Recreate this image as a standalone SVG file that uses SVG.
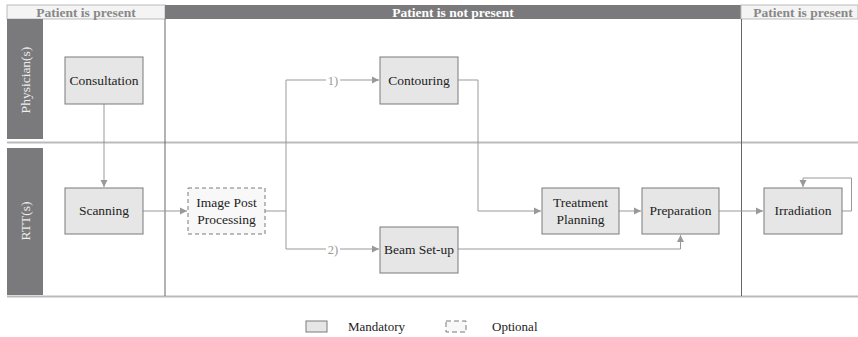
<svg xmlns="http://www.w3.org/2000/svg" width="858" height="337" viewBox="0 0 858 337">
<style>
.node{fill:#e6e6e6;stroke:#7a7a7a;stroke-width:1}
.opt{fill:#f8f8f8;stroke:#7a7a7a;stroke-width:1;stroke-dasharray:4,3}
text{font-family:'Liberation Serif','Times New Roman','DejaVu Serif',serif}
.t{font-size:13.5px;fill:#222;text-anchor:middle}
.lg{font-size:13px;fill:#222}
.lbl{font-size:12.5px;fill:#999;text-anchor:middle}
.hd{font-size:13.5px;font-weight:bold;text-anchor:middle}
.lane{font-size:13.5px;fill:#eee;text-anchor:middle}
.c{fill:none;stroke:#999;stroke-width:1}
.sep{stroke:#bbb;stroke-width:2}
</style>
<defs>
<marker id="a" markerWidth="8" markerHeight="8" refX="7" refY="4" orient="auto" markerUnits="userSpaceOnUse">
<path d="M0,0.5 L7,4 L0,7.5 z" fill="#999"/>
</marker>
</defs>
<rect width="858" height="337" fill="#fff"/>
<g id="header">
<rect x="7" y="5" width="158" height="14" fill="#f4f4f4" stroke="#bbb" stroke-width="1"/>
<rect x="165" y="5" width="576" height="14" fill="#7a7a7c"/>
<rect x="741" y="5" width="117" height="14" fill="#f4f4f4" stroke="#bbb" stroke-width="1"/>
<text class="hd" x="86" y="16.5" fill="#888">Patient is present</text>
<text class="hd" x="453" y="16.5" fill="#fff">Patient is not present</text>
<text class="hd" x="803" y="16.5" fill="#888">Patient is present</text>
</g>
<g id="lanes">
<rect x="7" y="19" width="36" height="120" fill="#7a7a7c"/>
<rect x="7" y="148" width="36" height="147" fill="#7a7a7c"/>
<text class="lane" transform="translate(29.5,80) rotate(-90)">Physician(s)</text>
<text class="lane" transform="translate(29.5,221) rotate(-90)">RTT(s)</text>
<line class="sep" x1="7" y1="142.5" x2="858" y2="142.5"/>
<line class="sep" x1="7" y1="296.5" x2="858" y2="296.5"/>
<line x1="165" y1="19" x2="165" y2="296" stroke="#666" stroke-width="1"/>
<line x1="741.5" y1="19" x2="741.5" y2="296" stroke="#666" stroke-width="1"/>
</g>
<g id="connectors">
<path class="c" d="M104,104 V187" marker-end="url(#a)"/>
<path class="c" d="M143,211 H187" marker-end="url(#a)"/>
<path class="c" d="M265,211 H286"/>
<path class="c" d="M286,249 V80 H326"/>
<path class="c" d="M340,80 H379" marker-end="url(#a)"/>
<path class="c" d="M286,249 H326"/>
<path class="c" d="M340,249 H379" marker-end="url(#a)"/>
<path class="c" d="M458,80 H478 V211 H541" marker-end="url(#a)"/>
<path class="c" d="M619,211 H641" marker-end="url(#a)"/>
<path class="c" d="M458,249 H680.5 V235" marker-end="url(#a)"/>
<path class="c" d="M719,211 H763" marker-end="url(#a)"/>
<path class="c" d="M842,211 H851.5 V178 H803 V187" marker-end="url(#a)"/>
<text class="lbl" x="333" y="84.5">1)</text>
<text class="lbl" x="333" y="253.5">2)</text>
</g>
<g id="consultation">
<rect class="node" x="65" y="57" width="78" height="47"/>
<text class="t" x="104" y="85">Consultation</text>
</g>
<g id="contouring">
<rect class="node" x="380" y="57" width="78" height="47"/>
<text class="t" x="419" y="85">Contouring</text>
</g>
<g id="scanning">
<rect class="node" x="65" y="188" width="78" height="46"/>
<text class="t" x="104" y="215">Scanning</text>
</g>
<g id="image-post-processing">
<rect class="opt" x="188" y="188" width="77" height="46"/>
<text class="t" x="226.5" y="207">Image Post</text>
<text class="t" x="226.5" y="224">Processing</text>
</g>
<g id="beam-setup">
<rect class="node" x="380" y="227" width="78" height="46"/>
<text class="t" x="419" y="254">Beam Set-up</text>
</g>
<g id="treatment-planning">
<rect class="node" x="542" y="188" width="77" height="46"/>
<text class="t" x="580.5" y="207">Treatment</text>
<text class="t" x="580.5" y="224">Planning</text>
</g>
<g id="preparation">
<rect class="node" x="642" y="188" width="77" height="46"/>
<text class="t" x="680.5" y="215">Preparation</text>
</g>
<g id="irradiation">
<rect class="node" x="764" y="188" width="78" height="46"/>
<text class="t" x="803" y="215">Irradiation</text>
</g>
<g id="legend">
<rect class="node" x="306" y="321" width="21" height="11"/>
<text class="lg" x="348" y="331">Mandatory</text>
<rect class="opt" x="446" y="321" width="20" height="11" style="stroke-dasharray:5,3"/>
<text class="lg" x="492" y="331">Optional</text>
</g>
</svg>
